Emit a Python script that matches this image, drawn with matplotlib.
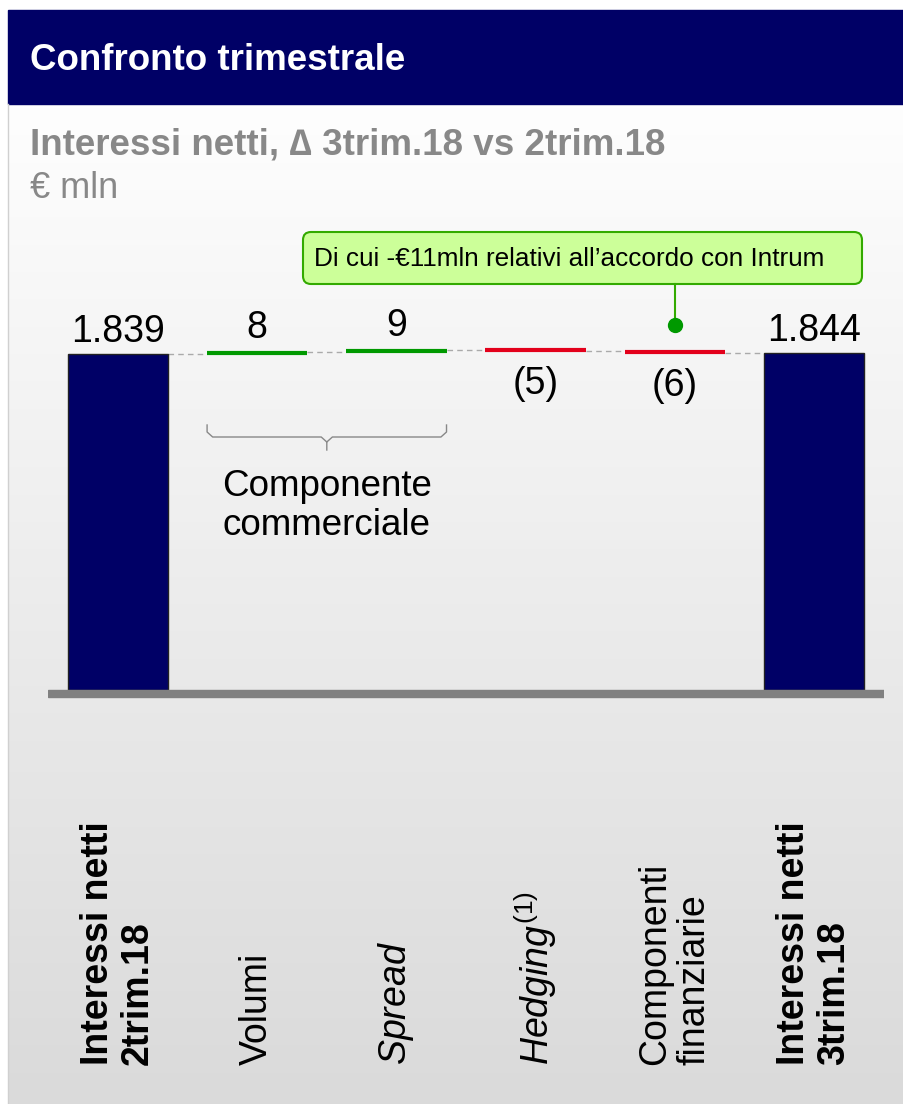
import numpy as np
import matplotlib
matplotlib.use("Agg")
import matplotlib.pyplot as plt
from matplotlib.patches import Rectangle, FancyBboxPatch
from matplotlib.colors import LinearSegmentedColormap

plt.rcParams['font.family'] = ['Liberation Sans', 'DejaVu Sans']
plt.rcParams['mathtext.fontset'] = 'custom'
plt.rcParams['mathtext.rm'] = 'Liberation Sans'
plt.rcParams['mathtext.it'] = 'Liberation Sans:italic'

# data
categories = ["Interessi netti\n2trim.18", "Volumi", "Spread", "Hedging", "Componenti\nfinanziarie", "Interessi netti\n3trim.18"]
start_value = 1839
deltas = [8, 9, -5, -6]
end_value = 1844
value_labels = ["1.839", "8", "9", "(5)", "(6)", "1.844"]

navy = "#000066"
green = "#009900"
red = "#e3001b"
floor = 495  # truncated axis start

fig = plt.figure(figsize=(9.04, 11.04), dpi=100)

# background / pixel overlay
bg = fig.add_axes([0, 0, 1, 1])
bg.set_xlim(0, 904)
bg.set_ylim(1104, 0)
bg.axis("off")
grad = np.linspace(0, 1, 256).reshape(-1, 1)
cmap = LinearSegmentedColormap.from_list("g", ["#fefefe", "#dadada"])
bg.imshow(grad, extent=[8, 904, 1104, 104], aspect="auto", cmap=cmap, zorder=0)
bg.add_patch(Rectangle((8, 10), 896, 94, color=navy, zorder=1))
bg.plot([8, 8], [104, 1104], color="#d0d0d0", lw=1, zorder=1)
bg.text(30, 60, "Confronto trimestrale", color="white", fontsize=26.5, fontweight="bold", va="center", ha="left")
bg.text(30, 145, "Interessi netti, \u2206 3trim.18 vs 2trim.18", color="#888888", fontsize=26.5, fontweight="bold", va="center", ha="left")
bg.text(30, 189, "\u20ac mln", color="#888888", fontsize=26, va="center", ha="left")

# callout
bg.add_patch(FancyBboxPatch((303, 232), 559, 52, boxstyle="round,pad=0,rounding_size=8",
                            fc="#ccff99", ec="#33aa00", lw=1.5, zorder=3))
bg.text(314, 259, "Di cui -\u20ac11mln relativi all\u2019accordo con Intrum", fontsize=18.8, va="center", ha="left", zorder=4)

# chart axes: x -0.5..5.5 -> px 48.4..883.6 ; y floor at px 690, 0.25 px/unit
px_per_unit = 0.25
y_top_px, y_bot_px = 210, 698.75
y_lo = floor - (y_bot_px - 690) / px_per_unit
y_hi = floor + (690 - y_top_px) / px_per_unit
ax = fig.add_axes([48.4 / 904, 1 - y_bot_px / 1104, (883.6 - 48.4) / 904, (y_bot_px - y_top_px) / 1104])
ax.set_xlim(-0.5, 5.5)
ax.set_ylim(y_lo, y_hi)
ax.axis("off")
ax.patch.set_alpha(0)

x = np.arange(len(categories))
w = 0.72
ax.bar([x[0], x[-1]], [start_value - floor, end_value - floor], bottom=floor, width=w,
       color=navy, edgecolor="#222222", lw=1, zorder=3)
ax.axhspan(floor - 28, floor, color="#808080", zorder=4)

levels = [start_value]
for d in deltas:
    levels.append(levels[-1] + d)
prev_right = x[0] + w / 2
for i, d in enumerate(deltas):
    xi = x[i + 1]
    s, e = levels[i], levels[i + 1]
    ax.plot([prev_right, xi - w / 2], [s, s], color="#aaaaaa", lw=1, ls=(0, (4, 3)), zorder=2)
    ax.hlines((s + e) / 2, xi - w / 2, xi + w / 2, color=green if d > 0 else red, lw=3, zorder=3)
    prev_right = xi + w / 2
ax.plot([prev_right, x[-1] - w / 2], [levels[-1], levels[-1]], color="#aaaaaa", lw=1, ls=(0, (4, 3)), zorder=2)

# value labels
ax.annotate(value_labels[0], (x[0], start_value), xytext=(0, 3), textcoords="offset points",
            ha="center", va="bottom", fontsize=27)
ax.annotate(value_labels[-1], (x[-1], end_value), xytext=(0, 3), textcoords="offset points",
            ha="center", va="bottom", fontsize=27)
for i, d in enumerate(deltas):
    top = max(levels[i], levels[i + 1])
    bot = min(levels[i], levels[i + 1])
    if d > 0:
        ax.annotate(value_labels[i + 1], (x[i + 1], top), xytext=(0, 4), textcoords="offset points",
                    ha="center", va="bottom", fontsize=27)
    else:
        ax.annotate(value_labels[i + 1], (x[i + 1], bot), xytext=(0, -11), textcoords="offset points",
                    ha="center", va="top", fontsize=27)

# callout connector
dot_y = levels[-1] + 110
ax.plot([x[4], x[4]], [dot_y, floor + (690 - 284) / px_per_unit], color="#33aa00", lw=1.5, zorder=3)
ax.plot(x[4], dot_y, "o", color=green, ms=10, zorder=4)

# brace under Volumi + Spread
bx0, bx1 = x[1] - 0.36, x[2] + 0.36
bm = (bx0 + bx1) / 2
yb_top = floor + (690 - 425) / px_per_unit
yb_mid = floor + (690 - 437) / px_per_unit
yb_tip = floor + (690 - 450) / px_per_unit
r = 0.04
ax.plot([bx0, bx0, bx0 + r, bm - r, bm, bm], [yb_top, yb_mid + 20, yb_mid, yb_mid, yb_mid - 20, yb_tip],
        color="#888888", lw=1)
ax.plot([bx1, bx1, bx1 - r, bm + r, bm], [yb_top, yb_mid + 20, yb_mid, yb_mid, yb_mid - 20],
        color="#888888", lw=1)
ax.text(bm, floor + (690 - 506) / px_per_unit, "Componente\ncommerciale", ha="center", va="center",
        fontsize=26.5, linespacing=1.15)

# category labels (rotated)
label_y = 1065
for i, c in enumerate(categories):
    bold = i in (0, len(categories) - 1)
    if c == "Hedging":
        txt = r"$\mathit{Hedging}^{\mathrm{(1)}}$"
    elif c == "Spread":
        txt = r"$\mathit{Spread}$"
    else:
        txt = c
    px = 48.4 + (x[i] + 0.5) * (883.6 - 48.4) / 6
    bg.text(px, label_y, txt, rotation=90, rotation_mode="anchor", ha="left", va="center",
            fontsize=27, fontweight="bold" if bold else "normal", linespacing=1.15, zorder=5)

fig.savefig("out.png", dpi=100)
